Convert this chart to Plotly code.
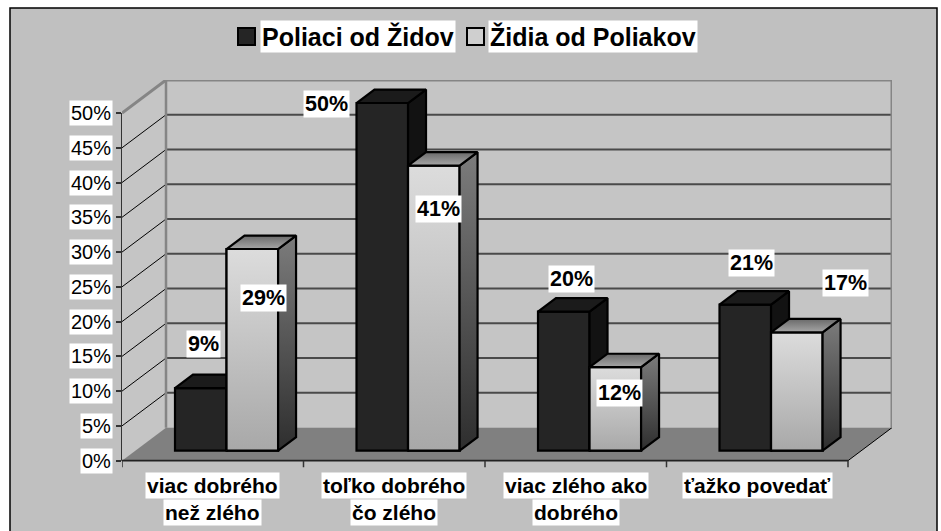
import plotly.graph_objects as go

# ---------------- data ----------------
CATEGORIES = ["viac dobrého<br>než zlého", "toľko dobrého<br>čo zlého",
              "viac zlého ako<br>dobrého", "ťažko povedať"]
SERIES = ["Poliaci od Židov", "Židia od Poliakov"]
POLIACI_OD_ZIDOV = [9, 50, 20, 21]
ZIDIA_OD_POLIAKOV = [29, 41, 12, 17]
Y_TICKS = [0, 5, 10, 15, 20, 25, 30, 35, 40, 45, 50]

# ---------------- styling / geometry ----------------
FONT = "Arial, Liberation Sans, sans-serif"
W = 0.284          # bar width (category units)
BDX0, BDY0 = 0.076, 1.44   # depth shift of bar front faces
BDX, BDY = 0.099, 1.94     # bar depth
FDX, FDY = 0.2424, 4.75    # floor / wall depth
YMIN = -1.2
PL, PR, PT, PB = 122, 892, 80, 469   # plot area in pixels
FIG_W, FIG_H = 941, 531

# label offsets in pixels (xshift, yshift) relative to top-front centre of bar
DARK_LABEL_SHIFT = [(2.5, 44), (-55.5, -1), (7.5, 33), (6.5, 42)]
LIGHT_LABEL_SHIFT = [(10.8, -48.5), (4.5, -43.7), (4, -26), (49, 49.5)]

DARK_FRONT, DARK_TOP, DARK_SIDE = "#252525", "#1B1B1B", "#121212"
LIGHT_FRONT = [[0, "#A8A8A8"], [1, "#DCDCDC"]]
LIGHT_TOP = [[0, "#A6A6A6"], [1, "#6A6A6A"]]
LIGHT_SIDE = [[0, "#2E2E2E"], [1, "#7C7C7C"]]
OUTLINE = dict(color="black", width=2.2)


def px_x(p):
    return (p - PL) / (PR - PL)


def px_y(p):
    return (PB - p) / (PB - PT)


fig = go.Figure()
n = len(CATEGORIES)
idx = list(range(n))


def add_series(vals, k, xa, ya):
    offset = -W if k == 0 else 0.0
    xpos = [i + BDX0 for i in idx]
    fig.add_trace(go.Bar(
        x=xpos, y=vals, base=BDY0, width=W, offset=offset,
        marker=dict(color=DARK_FRONT if k == 0 else "#C8C8C8", line=OUTLINE),
        xaxis=xa, yaxis=ya, showlegend=False, hoverinfo="skip", name=SERIES[k]))
    for i, v in zip(idx, vals):
        xl = i + BDX0 + offset
        xr = xl + W
        yb, yt = BDY0, BDY0 + v
        faces = []
        if k == 1:
            faces.append(([xl, xr, xr, xl, xl], [yb, yb, yt, yt, yb], None, LIGHT_FRONT))
        faces.append(([xr, xr, xr + BDX, xr + BDX, xr], [yb, yt, yt + BDY, yb + BDY, yb],
                      DARK_SIDE if k == 0 else None, None if k == 0 else LIGHT_SIDE))
        faces.append(([xl, xr, xr + BDX, xl + BDX, xl], [yt, yt, yt + BDY, yt + BDY, yt],
                      DARK_TOP if k == 0 else None, None if k == 0 else LIGHT_TOP))
        for fx, fy, col, grad in faces:
            kw = dict(x=fx, y=fy, mode="lines", fill="toself", line=OUTLINE,
                      xaxis=xa, yaxis=ya, showlegend=False, hoverinfo="skip")
            if grad is not None:
                kw["fillgradient"] = dict(type="vertical", colorscale=grad)
                kw["fillcolor"] = grad[0][1]
            else:
                kw["fillcolor"] = col
            fig.add_trace(go.Scatter(**kw))


add_series(POLIACI_OD_ZIDOV, 0, "x", "y")
add_series(ZIDIA_OD_POLIAKOV, 1, "x2", "y2")

shapes = []
# chart area background with border
shapes.append(dict(type="rect", xref="paper", yref="paper", layer="below",
                   x0=px_x(10), x1=px_x(937), y0=px_y(545), y1=px_y(8),
                   fillcolor="#C0C0C0", line=dict(color="black", width=1.5)))
X0, X1 = -0.5, n - 0.5
TOP = Y_TICKS[-1]
WALL = "#C5C5C5"
# left wall
shapes.append(dict(type="path", xref="x", yref="y", layer="below",
                   path=f"M{X0},0 L{X0},{TOP} L{X0+FDX},{TOP+FDY} L{X0+FDX},{FDY} Z",
                   fillcolor=WALL, line=dict(width=0)))
# back wall
shapes.append(dict(type="rect", xref="x", yref="y", layer="below",
                   x0=X0 + FDX, x1=X1 + FDX, y0=FDY, y1=TOP + FDY,
                   fillcolor=WALL, line=dict(width=0)))
# floor
shapes.append(dict(type="path", xref="x", yref="y", layer="below",
                   path=f"M{X0},0 L{X1},0 L{X1+FDX},{FDY} L{X0+FDX},{FDY} Z",
                   fillcolor="#808080", line=dict(width=0)))
shapes.append(dict(type="line", xref="x", yref="y", layer="below",
                   x0=X1, y0=0, x1=X1 + FDX, y1=FDY, line=dict(color="black", width=1)))
# gridlines
for v in Y_TICKS[1:-1]:
    shapes.append(dict(type="line", xref="x", yref="y", layer="below",
                       x0=X0 + FDX, x1=X1 + FDX, y0=v + FDY, y1=v + FDY,
                       line=dict(color="#4A4A4A", width=2)))
    shapes.append(dict(type="line", xref="x", yref="y", layer="below",
                       x0=X0, x1=X0 + FDX, y0=v, y1=v + FDY,
                       line=dict(color="black", width=1)))
# wall edges (grey)
shapes.append(dict(type="path", xref="x", yref="y", layer="below",
                   path=f"M{X0},{TOP} L{X0+FDX},{TOP+FDY} L{X1+FDX},{TOP+FDY} L{X1+FDX},{FDY}",
                   line=dict(color="#858585", width=3)))
shapes.append(dict(type="line", xref="x", yref="y", layer="below",
                   x0=X0 + FDX, x1=X0 + FDX, y0=FDY, y1=TOP + FDY,
                   line=dict(color="#858585", width=2.5)))
# front axes
shapes.append(dict(type="line", xref="paper", yref="y", layer="below",
                   x0=0, x1=0, y0=0, y1=TOP, line=dict(color="#333333", width=2)))
shapes.append(dict(type="line", xref="x", yref="y", layer="below",
                   x0=X0, x1=X1, y0=0, y1=0, line=dict(color="#222222", width=1.8)))
for i in range(n + 1):
    shapes.append(dict(type="line", xref="x", yref="y", layer="below",
                       x0=i - 0.5, x1=i - 0.5, y0=0, y1=-0.95,
                       line=dict(color="#333333", width=1.5)))

# legend (manual)
shapes.append(dict(type="rect", xref="paper", yref="paper",
                   x0=px_x(238), x1=px_x(255), y0=px_y(45), y1=px_y(28),
                   fillcolor=DARK_FRONT, line=dict(color="black", width=2)))
shapes.append(dict(type="rect", xref="paper", yref="paper",
                   x0=px_x(467), x1=px_x(484), y0=px_y(45), y1=px_y(28),
                   fillcolor="#CFCFCF", line=dict(color="black", width=2)))

annotations = []
box = dict(bgcolor="white", borderpad=1, showarrow=False)
annotations.append(dict(xref="paper", yref="paper", x=px_x(260), y=px_y(36),
                        xanchor="left", yanchor="middle",
                        text=f"<b>{SERIES[0]}</b>", font=dict(family=FONT, size=25, color="black"), **box))
annotations.append(dict(xref="paper", yref="paper", x=px_x(488), y=px_y(36),
                        xanchor="left", yanchor="middle",
                        text=f"<b>{SERIES[1]}</b>", font=dict(family=FONT, size=25, color="black"), **box))
# y tick labels
for v in Y_TICKS:
    annotations.append(dict(xref="paper", yref="y", x=0, y=v, xanchor="right", yanchor="middle",
                            xshift=-9, text=f"{v}%", font=dict(family=FONT, size=20, color="black"), **box))
# category labels
for i, cat in enumerate(CATEGORIES):
    for j, line in enumerate(cat.split("<br>")):
        annotations.append(dict(xref="x", yref="y", x=i, y=0, xanchor="center", yanchor="middle",
                                yshift=-24.6 - 27.5 * j, text=f"<b>{line}</b>",
                                font=dict(family=FONT, size=21, color="black"), **box))
# data labels
for k, (vals, shifts) in enumerate([(POLIACI_OD_ZIDOV, DARK_LABEL_SHIFT),
                                    (ZIDIA_OD_POLIAKOV, LIGHT_LABEL_SHIFT)]):
    for i, (v, (sx, sy)) in enumerate(zip(vals, shifts)):
        xc = i + BDX0 + (-W / 2 if k == 0 else W / 2)
        annotations.append(dict(xref="x", yref="y", x=xc, y=BDY0 + v, xanchor="center", yanchor="middle",
                                xshift=sx, yshift=sy, text=f"<b>{v}%</b>",
                                font=dict(family=FONT, size=21.5, color="black"), **box))

fig.update_layout(
    width=FIG_W, height=FIG_H,
    margin=dict(l=PL, r=FIG_W - PR, t=PT, b=FIG_H - PB, pad=0),
    paper_bgcolor="white", plot_bgcolor="rgba(0,0,0,0)",
    barmode="overlay", showlegend=False,
    shapes=shapes, annotations=annotations,
    xaxis=dict(range=[X0, X1 + FDX], visible=False, fixedrange=True),
    yaxis=dict(range=[YMIN, TOP + FDY], tickvals=Y_TICKS, ticks="outside", ticklen=5,
               tickwidth=1.5, tickcolor="#333333", showticklabels=False, showgrid=False,
               zeroline=False, showline=False, fixedrange=True),
    xaxis2=dict(range=[X0, X1 + FDX], overlaying="x", visible=False, fixedrange=True),
    yaxis2=dict(range=[YMIN, TOP + FDY], overlaying="y", visible=False, fixedrange=True),
)

fig.write_html("out.html", config={"displayModeBar": False},
               post_script="document.body.style.margin='0';document.body.style.overflow='hidden';")
